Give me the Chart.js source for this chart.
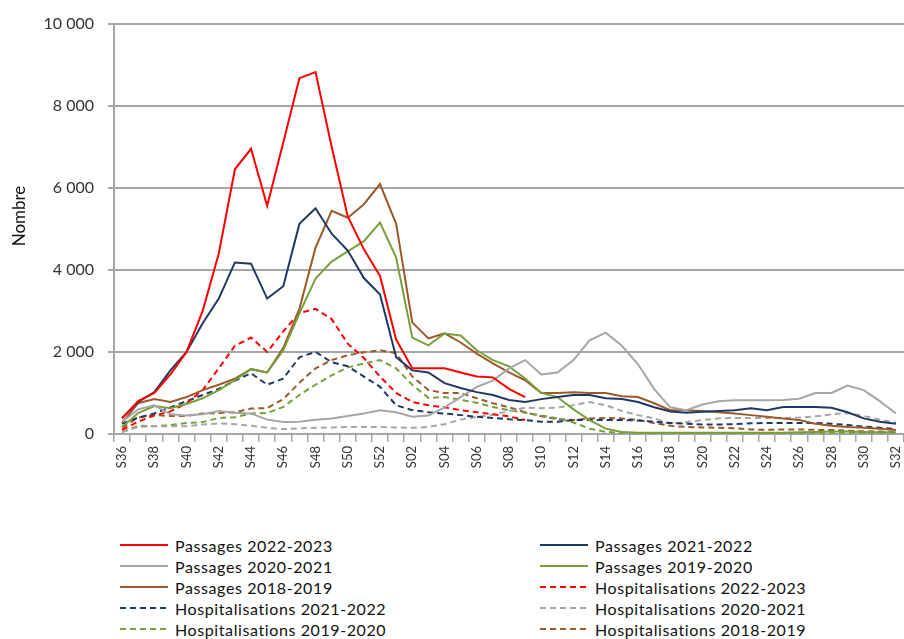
<!DOCTYPE html>
<html>
<head>
<meta charset="utf-8">
<script src="https://cdn.jsdelivr.net/npm/chart.js@4.4.1/dist/chart.umd.min.js"></script>
<style>
  html, body { margin: 0; padding: 0; background: #fff; overflow: hidden; }
  #wrap { position: relative; width: 904px; height: 639px; font-family: 'Lato', sans-serif; }
  #chart { position: absolute; left: 0; top: 0; }
  #legend {
    position: absolute; left: 120px; top: 536px;
    display: grid; grid-template-columns: 420px 320px; row-gap: 3px;
  }
  .item { display: flex; align-items: center; height: 18px; font-size: 16px; letter-spacing: 0.6px; color: #111; }
  .item svg { margin-right: 7px; }
</style>
</head>
<body>
<div id="wrap">
  <canvas id="chart" width="904" height="500"></canvas>
  <div id="legend"></div>
</div>
<script>
// Semaines
const semaines = ['S36','S37','S38','S39','S40','S41','S42','S43','S44','S45','S46','S47','S48','S49','S50','S51','S52',
  'S01','S02','S03','S04','S05','S06','S07','S08','S09','S10','S11','S12','S13','S14','S15','S16','S17','S18','S19','S20',
  'S21','S22','S23','S24','S25','S26','S27','S28','S29','S30','S31','S32'];

// Passages aux urgences
const passages2223 = [380,800,1000,1450,2000,3000,4400,6450,6950,5560,7100,8670,8820,7000,5300,4500,3850,
  2300,1600,1600,1600,1500,1400,1380,1100,900];
const passages2122 = [390,780,1020,1550,2000,2700,3300,4180,4150,3300,3600,5120,5500,4880,4470,3800,3400,
  1870,1550,1500,1240,1120,1020,950,830,780,850,900,950,950,870,850,780,650,550,520,540,
  560,580,630,580,660,660,660,640,530,380,300,250];
const passages2021 = [300,600,700,480,450,480,560,520,500,350,290,300,350,380,440,500,580,
  530,420,450,650,900,1150,1300,1600,1800,1450,1500,1800,2280,2470,2150,1700,1100,650,580,720,
  800,820,820,820,830,860,1000,1000,1180,1070,800,500];
const passages1920 = [170,510,680,630,730,870,1070,1310,1580,1500,2040,2940,3790,4200,4450,4700,5150,
  4300,2350,2160,2450,2400,2040,1800,1650,1350,1000,900,600,340,130,50,30,30,30,30,30,
  30,30,30,30,30,40,50,60,60,50,40,40];
const passages1819 = [270,750,850,780,900,1070,1200,1350,1580,1500,2100,3050,4540,5440,5270,5600,6090,
  5120,2720,2330,2450,2230,1960,1720,1500,1310,1000,1000,1020,1000,1000,920,900,750,580,580,560,
  530,500,460,420,380,340,250,200,170,150,130,100];

// Hospitalisations après passage
const hospit2223 = [100,300,450,550,750,1070,1600,2150,2350,2000,2500,2950,3050,2800,2200,1850,1400,
  1000,780,700,650,580,530,480,430,340];
const hospit2122 = [250,400,500,650,800,950,1100,1300,1480,1200,1350,1870,2000,1750,1650,1400,1150,
  700,580,530,500,460,420,390,360,340,300,300,340,340,340,340,330,300,270,250,230,
  230,240,260,270,270,270,270,250,220,180,150,120];
const hospit2021 = [50,170,190,190,190,230,260,240,200,150,120,140,150,160,170,170,170,
  160,150,170,240,350,420,470,560,640,630,640,700,780,700,560,460,380,250,290,340,
  380,390,390,390,390,400,430,480,510,440,350,280];
const hospit1920 = [50,200,190,220,270,290,390,410,500,510,660,950,1200,1430,1620,1720,1800,
  1600,1200,880,900,830,760,660,580,520,450,380,280,130,50,30,20,20,20,20,20,
  20,20,20,20,20,20,30,30,30,30,30,30];
const hospit1819 = [150,400,460,440,440,500,510,530,620,630,850,1250,1600,1800,1920,1990,2040,
  1970,1400,1070,1000,1000,870,750,650,530,430,360,340,380,390,380,340,270,200,170,160,
  150,140,110,100,110,110,100,100,80,70,60,50];

const ROUGE = '#ff0000', BLEU = '#1f3864', GRIS = '#a6a6a6', VERT = '#77a03c', BRUN = '#9c5a2a';
const TIRET = [6, 4];

function serie(label, data, color, dash) {
    return {
        label: label,
        data: data,
        borderColor: color,
        backgroundColor: color,
        borderWidth: 2,
        borderDash: dash || [],
        pointRadius: 0,
        tension: 0,
        fill: false,
        spanGaps: false
    };
}

const grille = '#a6a6a6';

// Titre de l'axe Y dessiné à la main (position plus haute que le centrage Chart.js)
const titreY = {
    id: 'titreY',
    afterDraw: function(chart) {
        const c = chart.ctx;
        c.save();
        c.translate(20, 216);
        c.rotate(-Math.PI / 2);
        c.fillStyle = '#111';
        c.font = '17px Lato';
        c.textAlign = 'center';
        c.textBaseline = 'middle';
        c.fillText('Nombre', 0, 0);
        c.restore();
    }
};

const ctx = document.getElementById('chart');
const chart = new Chart(ctx, {
    type: 'line',
    data: {
        labels: semaines,
        datasets: [
            serie('Passages 2022-2023', passages2223, ROUGE),
            serie('Passages 2021-2022', passages2122, BLEU),
            serie('Passages 2020-2021', passages2021, GRIS),
            serie('Passages 2019-2020', passages1920, VERT),
            serie('Passages 2018-2019', passages1819, BRUN),
            serie('Hospitalisations 2022-2023', hospit2223, ROUGE, TIRET),
            serie('Hospitalisations 2021-2022', hospit2122, BLEU, TIRET),
            serie('Hospitalisations 2020-2021', hospit2021, GRIS, TIRET),
            serie('Hospitalisations 2019-2020', hospit1920, VERT, TIRET),
            serie('Hospitalisations 2018-2019', hospit1819, BRUN, TIRET)
        ]
    },
    plugins: [titreY],
    options: {
        responsive: false,
        animation: false,
        devicePixelRatio: 1,
        layout: { padding: { top: 22, right: 0, left: 0, bottom: 0 } },
        plugins: {
            legend: { display: false },
            tooltip: { enabled: false }
        },
        scales: {
            x: {
                offset: true,
                afterFit: function(scale) {
                    scale.height = 66;
                    scale.paddingRight = 0;
                    scale.paddingLeft = 0;
                },
                border: { display: true, color: grille, width: 2 },
                grid: {
                    offset: true,
                    drawOnChartArea: false,
                    drawTicks: true,
                    tickLength: 8,
                    color: grille,
                    lineWidth: 1.5
                },
                ticks: {
                    autoSkip: false,
                    maxRotation: 90,
                    minRotation: 90,
                    padding: 4,
                    color: '#333',
                    font: { family: 'Lato', size: 13 },
                    callback: function(val, index) {
                        return index % 2 === 0 ? this.getLabelForValue(val) : '';
                    }
                }
            },
            y: {
                min: 0,
                max: 10000,
                afterFit: function(scale) { scale.width = 114; },
                border: { display: true, color: grille, width: 2 },
                grid: {
                    color: grille,
                    lineWidth: 2,
                    drawTicks: true,
                    tickLength: 6
                },
                ticks: {
                    stepSize: 2000,
                    padding: 14,
                    color: '#333',
                    font: { family: 'Lato', size: 16 },
                    callback: function(v) {
                        return String(v).replace(/\B(?=(\d{3})+(?!\d))/g, ' ');
                    }
                }
            }
        }
    }
});

// Légende en deux colonnes
const legende = document.getElementById('legend');
chart.data.datasets.forEach(function(ds) {
    const item = document.createElement('div');
    item.className = 'item';
    const dash = ds.borderDash.length ? ' stroke-dasharray="' + ds.borderDash.join(' ') + '"' : '';
    item.innerHTML = '<svg width="48" height="6"><line x1="0" y1="3" x2="48" y2="3" stroke="' + ds.borderColor +
        '" stroke-width="2"' + dash + '/></svg><span>' + ds.label + '</span>';
    legende.appendChild(item);
});
</script>
</body>
</html>
